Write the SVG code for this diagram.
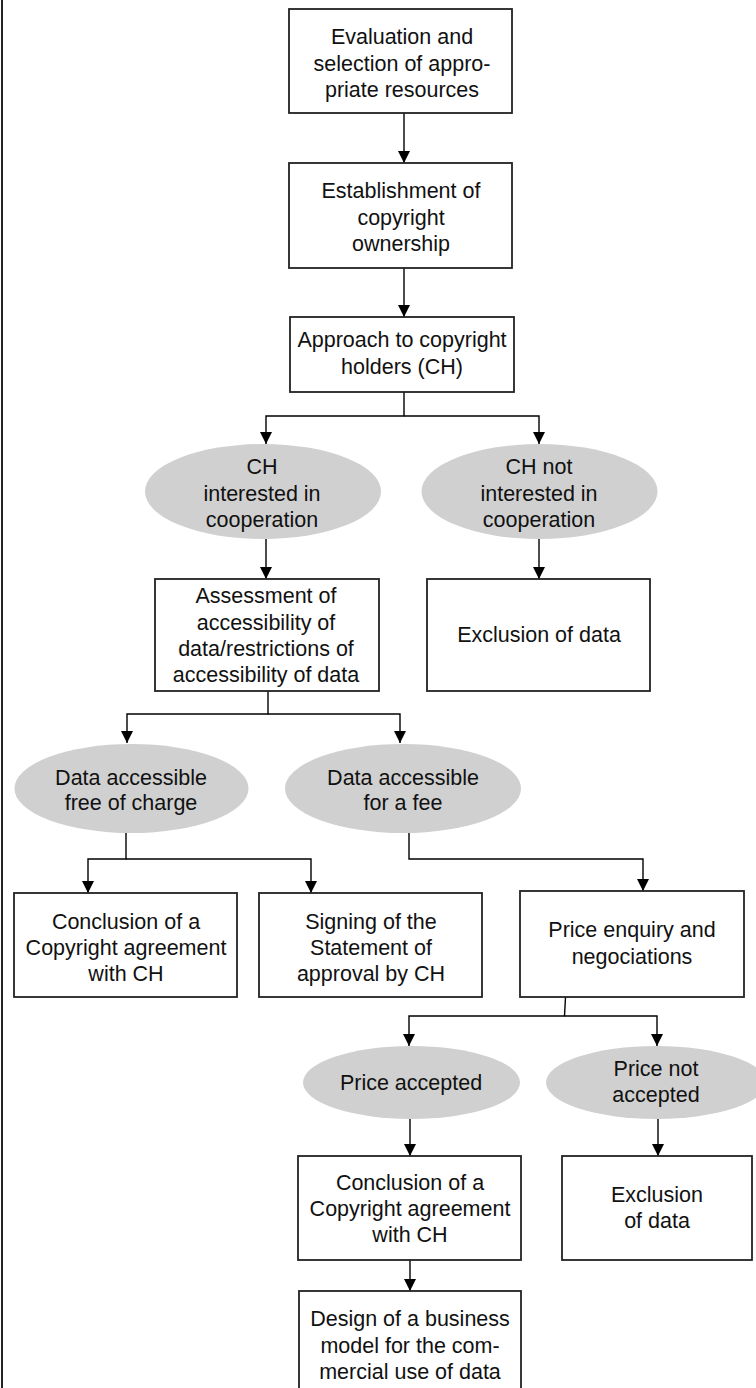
<svg xmlns="http://www.w3.org/2000/svg" width="756" height="1388" viewBox="0 0 756 1388">
<style>
.box{fill:#fff;stroke:#222;stroke-width:1.8}
.ell{fill:#d0d0d0;stroke:none}
.t{font-family:"Liberation Sans",Arial,sans-serif;font-size:21.5px;fill:#111;text-anchor:middle}
.c{fill:none;stroke:#000;stroke-width:1.4}
</style>
<defs>
<marker id="ah" markerUnits="userSpaceOnUse" markerWidth="12" markerHeight="12" refX="12" refY="6" orient="auto">
<path d="M0,0 L12,6 L0,12 z" fill="#000"/>
</marker>
</defs>
<rect x="1" y="0" width="2" height="1388" fill="#222"/>
<g id="connectors">
<path class="c" d="M404,113 V163" marker-end="url(#ah)"/>
<path class="c" d="M404,268 V317" marker-end="url(#ah)"/>
<path class="c" d="M404,392 V416 H266 V444" marker-end="url(#ah)"/>
<path class="c" d="M404,416 H539 V444" marker-end="url(#ah)"/>
<path class="c" d="M266,539 V579" marker-end="url(#ah)"/>
<path class="c" d="M539,539 V579" marker-end="url(#ah)"/>
<path class="c" d="M268,691 V714 H127 V743" marker-end="url(#ah)"/>
<path class="c" d="M268,714 H400 V743" marker-end="url(#ah)"/>
<path class="c" d="M126,833 V859 H88 V893" marker-end="url(#ah)"/>
<path class="c" d="M126,859 H311 V893" marker-end="url(#ah)"/>
<path class="c" d="M409,833 V859 H643 V891" marker-end="url(#ah)"/>
<path class="c" d="M565.5,997 L564.5,1016 H409 V1046" marker-end="url(#ah)"/>
<path class="c" d="M564.5,1016 H657 V1046" marker-end="url(#ah)"/>
<path class="c" d="M410,1119 V1156" marker-end="url(#ah)"/>
<path class="c" d="M658,1119 V1156" marker-end="url(#ah)"/>
<path class="c" d="M410,1260 V1291" marker-end="url(#ah)"/>
</g>
<g id="n1">
<rect class="box" x="289" y="9" width="223" height="104"/>
<text class="t" x="402" y="43.5">Evaluation and</text>
<text class="t" x="402" y="70.5">selection of appro-</text>
<text class="t" x="402" y="96.5">priate resources</text>
</g>
<g id="n2">
<rect class="box" x="289" y="163" width="223" height="105"/>
<text class="t" x="401" y="197.5">Establishment of</text>
<text class="t" x="401" y="224.5">copyright</text>
<text class="t" x="401" y="250.5">ownership</text>
</g>
<g id="n3">
<rect class="box" x="290" y="317" width="224" height="75"/>
<text class="t" x="402" y="346.5">Approach to copyright</text>
<text class="t" x="402" y="373.5">holders (CH)</text>
</g>
<g id="n4">
<ellipse class="ell" cx="263" cy="491.5" rx="118" ry="47.5"/>
<text class="t" x="262" y="473.5">CH</text>
<text class="t" x="262" y="500.5">interested in</text>
<text class="t" x="262" y="526.5">cooperation</text>
</g>
<g id="n5">
<ellipse class="ell" cx="539.5" cy="491.5" rx="118" ry="47.5"/>
<text class="t" x="539" y="473.5">CH not</text>
<text class="t" x="539" y="500.5">interested in</text>
<text class="t" x="539" y="526.5">cooperation</text>
</g>
<g id="n6">
<rect class="box" x="155" y="579" width="224" height="112"/>
<text class="t" x="266" y="602.5">Assessment of</text>
<text class="t" x="266" y="629.5">accessibility of</text>
<text class="t" x="266" y="655.5">data/restrictions of</text>
<text class="t" x="266" y="681.5">accessibility of data</text>
</g>
<g id="n7">
<rect class="box" x="427" y="579" width="223" height="112"/>
<text class="t" x="539" y="641.5">Exclusion of data</text>
</g>
<g id="n8">
<ellipse class="ell" cx="131.5" cy="788.5" rx="117" ry="44.5"/>
<text class="t" x="131" y="784.5">Data accessible</text>
<text class="t" x="131" y="809.5">free of charge</text>
</g>
<g id="n9">
<ellipse class="ell" cx="403" cy="788.5" rx="118" ry="44.5"/>
<text class="t" x="403" y="784.5">Data accessible</text>
<text class="t" x="403" y="809.5">for a fee</text>
</g>
<g id="n10">
<rect class="box" x="14" y="893" width="223" height="104"/>
<text class="t" x="126" y="928.5">Conclusion of a</text>
<text class="t" x="126" y="954.5">Copyright agreement</text>
<text class="t" x="126" y="980.5">with CH</text>
</g>
<g id="n11">
<rect class="box" x="259" y="893" width="223" height="104"/>
<text class="t" x="371" y="928.5">Signing of the</text>
<text class="t" x="371" y="954.5">Statement of</text>
<text class="t" x="371" y="980.5">approval by CH</text>
</g>
<g id="n12">
<rect class="box" x="520" y="891" width="224" height="106"/>
<text class="t" x="632" y="936.5">Price enquiry and</text>
<text class="t" x="632" y="963.5">negociations</text>
</g>
<g id="n13">
<ellipse class="ell" cx="411.5" cy="1082.5" rx="108.5" ry="36.5"/>
<text class="t" x="411" y="1089.5">Price accepted</text>
</g>
<g id="n14">
<ellipse class="ell" cx="656" cy="1082.5" rx="110" ry="36.5"/>
<text class="t" x="656" y="1075.5">Price not</text>
<text class="t" x="656" y="1101.5">accepted</text>
</g>
<g id="n15">
<rect class="box" x="298" y="1156" width="223" height="104"/>
<text class="t" x="410" y="1189.5">Conclusion of a</text>
<text class="t" x="410" y="1215.5">Copyright agreement</text>
<text class="t" x="410" y="1241.5">with CH</text>
</g>
<g id="n16">
<rect class="box" x="562" y="1156" width="190" height="104"/>
<text class="t" x="657" y="1201.5">Exclusion</text>
<text class="t" x="657" y="1227.5">of data</text>
</g>
<g id="n17">
<rect class="box" x="299" y="1291" width="222" height="110"/>
<text class="t" x="410" y="1325.5">Design of a business</text>
<text class="t" x="410" y="1352.5">model for the com-</text>
<text class="t" x="410" y="1378.5">mercial use of data</text>
</g>
</svg>
